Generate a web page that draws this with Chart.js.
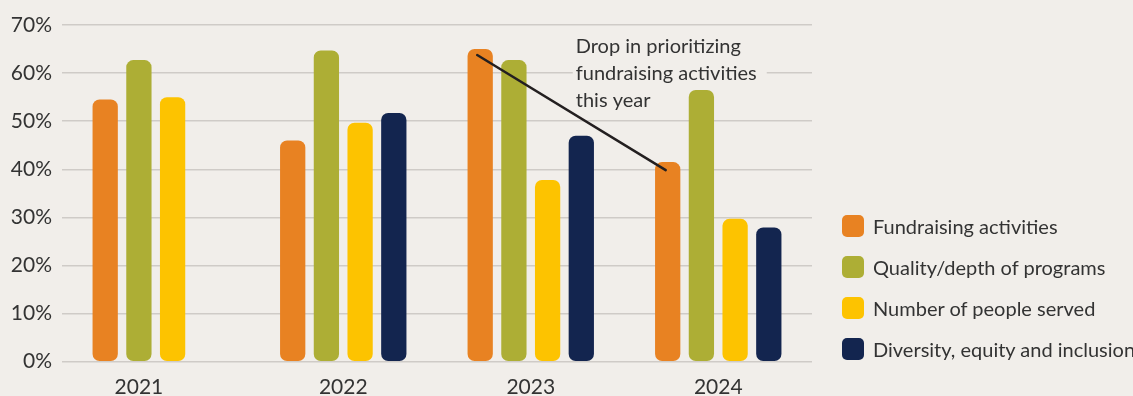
<!DOCTYPE html>
<html>
<head>
<meta charset="utf-8">
<script src="https://cdn.jsdelivr.net/npm/chart.js@4.4.0/dist/chart.umd.min.js"></script>
<style>
  html, body { margin: 0; padding: 0; background: #f1eeea; overflow: hidden; }
  #wrap { position: relative; width: 1133px; height: 396px; }
  #legend { position: absolute; left: 842px; top: 215px; font-family: Lato, sans-serif; font-size: 20px; color: #333; }
  .item { display: flex; align-items: center; height: 22px; margin-bottom: 19px; white-space: nowrap; }
  .swatch { width: 22px; height: 22px; border-radius: 5px; margin-right: 9px; flex: none; }
</style>
</head>
<body>
<div id="wrap">
  <canvas id="chart" width="1133" height="396"></canvas>
  <div id="legend"></div>
</div>
<script>
// priorities by year (% of respondents)
const YEARS = ['2021', '2022', '2023', '2024'];
const SERIES = ['Fundraising activities', 'Quality/depth of programs', 'Number of people served', 'Diversity, equity and inclusion'];
const FUNDRAISING = [54.5, 46, 65, 41.5];
const QUALITY = [62.7, 64.7, 62.7, 56.5];
const PEOPLE = [55, 49.7, 37.8, 29.7];
const DEI = [null, 51.7, 47, 27.9];
const COLORS = ['#e88222', '#adae35', '#fdc300', '#13254f'];
const Y_MAX = 70;
const Y_STEP = 10;
const NOTE = ['Drop in prioritizing', 'fundraising activities', 'this year'];

const BG = '#f1eeea';
const TEXT = '#333';

// year labels centred under the bars that actually exist for that year
const yearLabels = {
  id: 'yearLabels',
  afterDatasetsDraw(chart) {
    const ctx = chart.ctx;
    ctx.save();
    ctx.font = '21px Lato';
    ctx.fillStyle = TEXT;
    ctx.textAlign = 'center';
    ctx.textBaseline = 'alphabetic';
    YEARS.forEach((year, i) => {
      const xs = [];
      chart.data.datasets.forEach((ds, d) => {
        if (ds.data[i] != null) xs.push(chart.getDatasetMeta(d).data[i].x);
      });
      const x = xs.reduce((a, b) => a + b, 0) / xs.length;
      ctx.fillText(year, x, chart.chartArea.bottom + 32);
    });
    ctx.restore();
  }
};

// callout text sits on a plain patch over the gridlines, behind the bars
function noteBox(chart) {
  const tx = chart.scales.x.getPixelForValue(2) + 45;
  const ty = chart.chartArea.top + 28;
  return { tx, ty, lh: 27 };
}

const dropNote = {
  id: 'dropNote',
  beforeDatasetsDraw(chart) {
    const ctx = chart.ctx;
    const { tx, ty, lh } = noteBox(chart);
    ctx.save();
    ctx.font = '20px Lato';
    const w = Math.max(...NOTE.map(t => ctx.measureText(t).width));
    ctx.fillStyle = BG;
    ctx.fillRect(tx - 3, ty - 20, w + 13, NOTE.length * lh);
    ctx.fillStyle = TEXT;
    ctx.textBaseline = 'alphabetic';
    NOTE.forEach((t, i) => ctx.fillText(t, tx, ty + i * lh));
    ctx.restore();
  },
  afterDatasetsDraw(chart) {
    // line from fundraising 2023 down to fundraising 2024
    const ctx = chart.ctx;
    const meta = chart.getDatasetMeta(0);
    const from = meta.data[2], to = meta.data[3];
    ctx.save();
    ctx.beginPath();
    ctx.moveTo(from.x - 3, from.y + 6);
    ctx.lineTo(to.x - 2, to.y + 8);
    ctx.lineWidth = 2.5;
    ctx.lineCap = 'round';
    ctx.strokeStyle = '#231f20';
    ctx.stroke();
    ctx.restore();
  }
};

const values = [FUNDRAISING, QUALITY, PEOPLE, DEI];

new Chart(document.getElementById('chart'), {
  type: 'bar',
  data: {
    labels: YEARS,
    datasets: SERIES.map((name, i) => ({
      label: name,
      data: values[i],
      backgroundColor: COLORS[i],
      borderRadius: 7,
      borderSkipped: false,
      categoryPercentage: 0.719,
      barPercentage: 0.75
    }))
  },
  options: {
    responsive: false,
    animation: false,
    layout: { padding: { left: 0, right: 321, top: 25, bottom: 14.3 } },
    plugins: { legend: { display: false }, tooltip: { enabled: false } },
    scales: {
      x: {
        ticks: { display: false },
        grid: { display: false },
        border: { display: false },
        afterFit(scale) { scale.height = 20; }
      },
      y: {
        min: 0,
        max: Y_MAX,
        ticks: {
          stepSize: Y_STEP,
          callback: v => v + '%',
          padding: 10,
          color: TEXT,
          font: { family: 'Lato', size: 21 }
        },
        grid: { color: '#cfcbc7', lineWidth: 1.5, drawTicks: false },
        border: { display: false },
        afterFit(scale) { scale.width = 62; }
      }
    }
  },
  plugins: [yearLabels, dropNote]
});

// legend built from the same series names/colours
const legend = document.getElementById('legend');
SERIES.forEach((name, i) => {
  const row = document.createElement('div');
  row.className = 'item';
  row.innerHTML = '<span class="swatch" style="background:' + COLORS[i] + '"></span><span>' + name + '</span>';
  legend.appendChild(row);
});
</script>
</body>
</html>
